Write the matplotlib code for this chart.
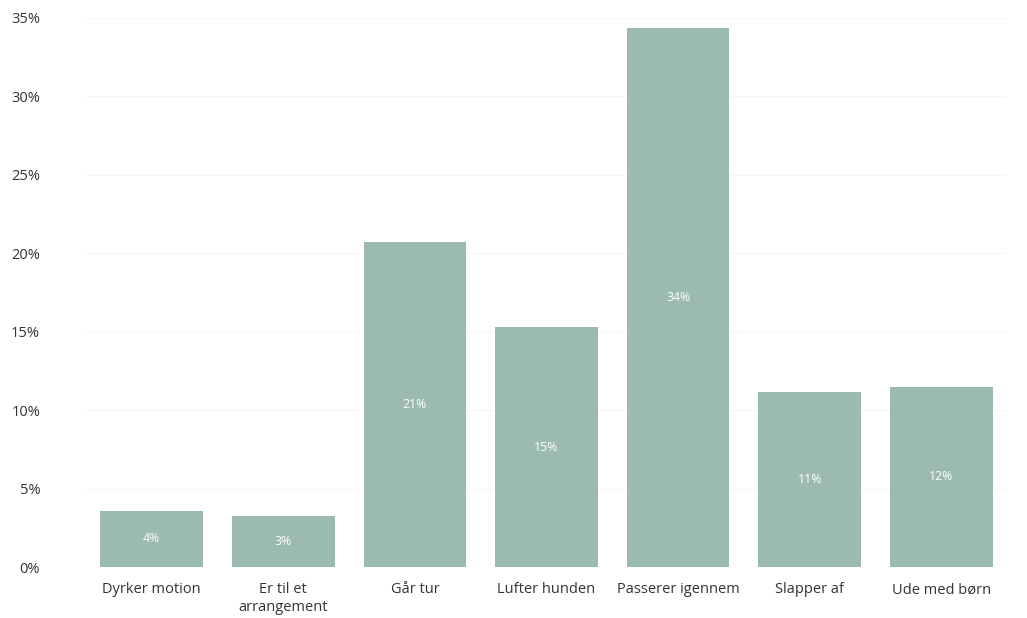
import numpy as np
import matplotlib.pyplot as plt

plt.rcParams['font.family'] = ['Open Sans', 'DejaVu Sans']

# Data
categories = ['Dyrker motion', 'Er til et\narrangement', 'Går tur', 'Lufter hunden',
              'Passerer igennem', 'Slapper af', 'Ude med børn']
values = [3.6, 3.25, 20.7, 15.3, 34.35, 11.15, 11.5]
value_labels = ['4%', '3%', '21%', '15%', '34%', '11%', '12%']
y_ticks = [0, 5, 10, 15, 20, 25, 30, 35]

bar_color = '#9bbbae'

fig = plt.figure(figsize=(10.27, 6.18), dpi=100)
ax = fig.add_axes([0.0837, 0.0825, 0.8968, 0.8884])

x = np.arange(len(categories))
bars = ax.bar(x, values, width=0.78, color=bar_color)

for b, lab in zip(bars, value_labels):
    ax.text(b.get_x() + b.get_width() / 2, b.get_height() / 2, lab,
            ha='center', va='center', color='white', fontsize=8.8)

ax.set_xlim(-0.5, len(categories) - 0.5)
ax.set_ylim(0, 35)
ax.set_yticks(y_ticks)
ax.set_yticklabels([f'{t}%' for t in y_ticks])
ax.set_xticks(x)
ax.set_xticklabels(categories, linespacing=1.25)

ax.yaxis.grid(True, color='#f7f7f7', linewidth=0.8)
ax.set_axisbelow(True)
for s in ax.spines.values():
    s.set_visible(False)
ax.tick_params(axis='both', length=0, labelsize=10.5, colors='#333333')
ax.tick_params(axis='x', pad=11)
ax.tick_params(axis='y', pad=33)

fig.savefig('out.png', dpi=100, facecolor='white')
